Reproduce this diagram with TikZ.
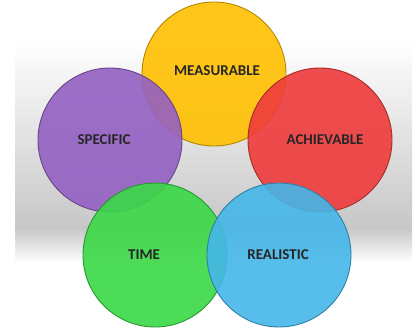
\documentclass[tikz,border=0pt]{standalone}
\usepackage{fontspec}
\setmainfont{Carlito}

\definecolor{measY}{HTML}{FFC000}
\definecolor{specP}{HTML}{9460C2}
\definecolor{achR}{HTML}{EF3B3B}
\definecolor{timeG}{HTML}{3AD846}
\definecolor{realB}{HTML}{45B6E8}

\begin{document}
\begin{tikzpicture}[x=1pt,y=-1pt,
    ball/.style={draw=#1!70!black, fill=#1, fill opacity=.9, line width=.9pt},
    word/.style={font=\fontsize{15}{17}\selectfont\bfseries, text=black!85}]
\useasboundingbox (0,0) rectangle (419,334);

%-------------------------------------------- Floor band
\shade[top color=white, bottom color=black!22] (15,40) rectangle (412,228);
\shade[top color=black!22, bottom color=white] (15,228) rectangle (412,262);

%-------------------------------------------- Circles
\draw[ball=measY] (214,74) circle (72pt);   % top
\draw[ball=specP] (110,140) circle (72pt);  % left
\draw[ball=achR]  (320,140) circle (72pt);  % right
\draw[ball=timeG] (155,255) circle (72pt);  % bottom left
\draw[ball=realB] (279,255) circle (72pt);  % bottom right

%-------------------------------------------- Labels
\node[word] (measurable) at (217,71)  {MEASURABLE};
\node[word] (specific)   at (104,140) {SPECIFIC};
\node[word] (achievable) at (325,140) {ACHIEVABLE};
\node[word] (time)       at (144,255) {TIME};
\node[word] (realistic)  at (278,255) {REALISTIC};

\end{tikzpicture}
\end{document}
